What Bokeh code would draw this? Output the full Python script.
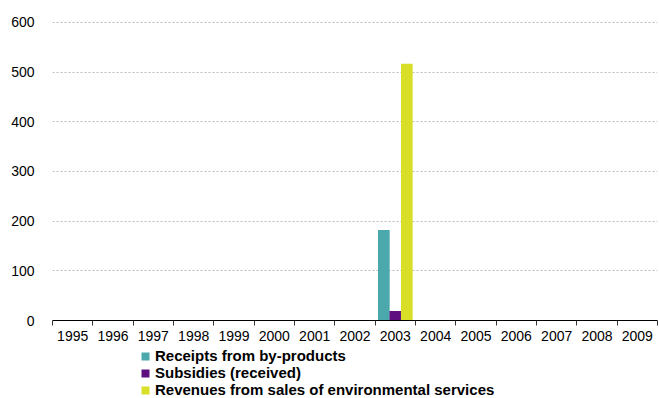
from bokeh.plotting import figure
from bokeh.models import ColumnDataSource, FixedTicker, Range1d, Legend, LegendItem
from bokeh.layouts import column
from bokeh.transform import dodge
from bokeh.embed import file_html
from bokeh.resources import INLINE

years = ["1995", "1996", "1997", "1998", "1999", "2000", "2001", "2002",
         "2003", "2004", "2005", "2006", "2007", "2008", "2009"]
receipts = [0, 0, 0, 0, 0, 0, 0, 0, 182, 0, 0, 0, 0, 0, 0]
subsidies = [0, 0, 0, 0, 0, 0, 0, 0, 19, 0, 0, 0, 0, 0, 0]
revenues = [0, 0, 0, 0, 0, 0, 0, 0, 517, 0, 0, 0, 0, 0, 0]
series_names = ["Receipts from by-products", "Subsidies (received)",
                "Revenues from sales of environmental services"]
colors = ["#4BA9AD", "#5F0F7F", "#D9DE26"]
y_ticks = [0, 100, 200, 300, 400, 500, 600]

FONT = "Liberation Sans"
centers = [i + 0.5 for i in range(len(years))]
src = ColumnDataSource(dict(x=centers, receipts=receipts, subsidies=subsidies, revenues=revenues))

W = 659
p = figure(width=W, height=345, output_backend="svg", toolbar_location=None,
           x_range=Range1d(0, len(years)), y_range=Range1d(0, 604),
           min_border_left=52, min_border_right=2, min_border_top=20, min_border_bottom=25)
p.outline_line_color = None
p.background_fill_color = None
p.border_fill_color = "white"

bw = 0.29
fields = ["receipts", "subsidies", "revenues"]
for field, off, c in zip(fields, [-0.285, 0.0, 0.285], colors):
    p.vbar(x=dodge("x", off), top=field, width=bw, bottom=0, source=src,
           fill_color=c, line_color=None)

xa = p.xaxis[0]
xa.ticker = FixedTicker(ticks=centers, minor_ticks=list(range(len(years) + 1)))
xa.major_label_overrides = {c: y for c, y in zip(centers, years)}
xa.major_tick_out = 0
xa.major_tick_in = 0
xa.minor_tick_out = 5
xa.minor_tick_in = 0
xa.minor_tick_line_color = "#333333"
xa.axis_line_color = "#000000"
xa.major_label_text_font = FONT
xa.major_label_text_font_size = "14px"
xa.major_label_text_color = "#000000"
xa.major_label_standoff = 5

ya = p.yaxis[0]
ya.ticker = FixedTicker(ticks=y_ticks)
ya.axis_line_color = None
ya.major_tick_line_color = None
ya.minor_tick_line_color = None
ya.major_label_text_font = FONT
ya.major_label_text_font_size = "14px"
ya.major_label_text_color = "#000000"
ya.major_label_standoff = 12

p.xgrid.grid_line_color = None
p.ygrid.ticker = FixedTicker(ticks=y_ticks[1:])
p.ygrid.grid_line_color = "#bbbbbb"
p.ygrid.grid_line_dash = "2 2"

# legend in a separate strip below the chart
lg = figure(width=W, height=53, output_backend="svg", toolbar_location=None,
            x_axis_type=None, y_axis_type=None,
            x_range=Range1d(0, 1), y_range=Range1d(0, 1),
            min_border=0, min_border_left=0, min_border_right=0, min_border_top=0, min_border_bottom=0)
lg.grid.visible = False
lg.outline_line_color = None
lg.border_fill_color = "white"
lg.background_fill_color = "white"
hidden = ColumnDataSource(dict(x=[0.5], top=[0.0]))
items = []
for n, c in zip(series_names, colors):
    r = lg.vbar(x="x", top="top", width=0.1, bottom=0.0, source=hidden, fill_color=c, line_color=None)
    items.append(LegendItem(label=n, renderers=[r]))

legend = Legend(items=items, orientation="vertical", location=(88, 0))
legend.label_text_font = FONT
legend.label_text_font_style = "bold"
legend.label_text_font_size = "15px"
legend.label_text_color = "#000000"
legend.label_height = 13
legend.glyph_height = 10
legend.glyph_width = 10
legend.label_standoff = 5
legend.spacing = 0
legend.padding = 0
legend.margin = 0
legend.border_line_color = None
legend.background_fill_alpha = 0
lg.add_layout(legend, "center")

layout = column(p, lg, spacing=0)
open("out.html", "w").write(file_html(layout, INLINE))
